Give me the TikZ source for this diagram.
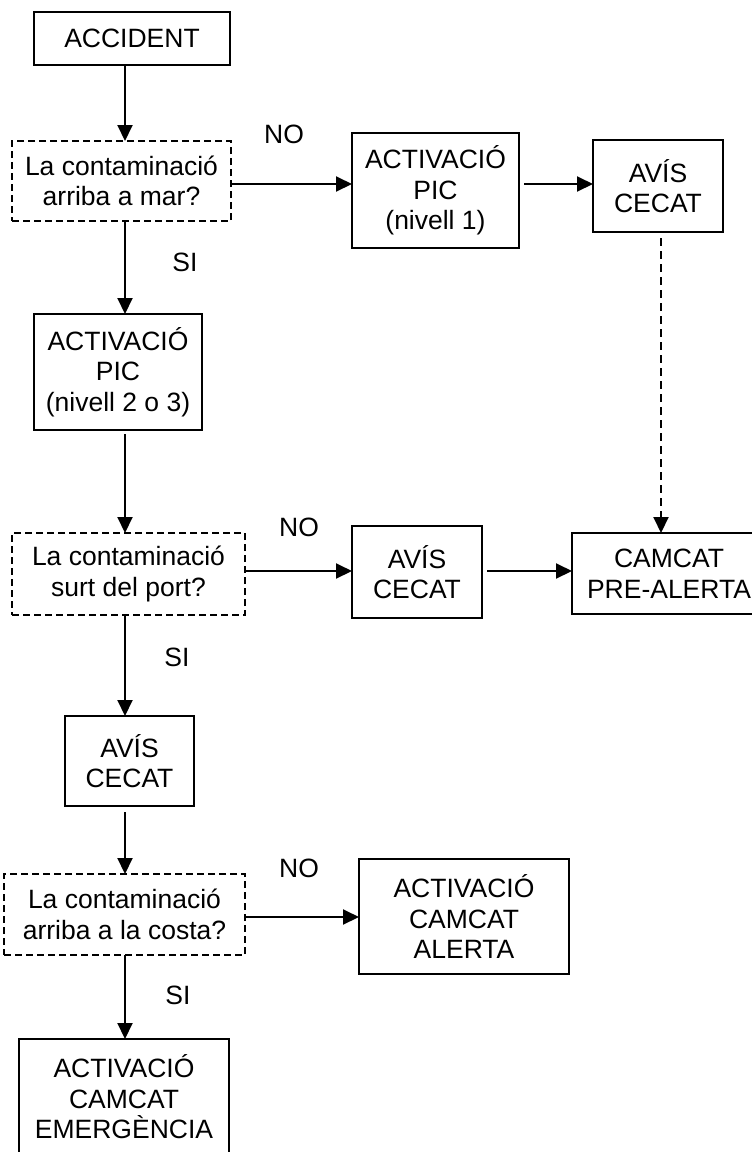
\documentclass[tikz,border=0pt]{standalone}
\usepackage{fontspec}
\setmainfont{Liberation Sans}
\usetikzlibrary{arrows.meta}
\begin{document}
\begin{tikzpicture}[x=1pt,y=-1pt,
  box/.style={draw, line width=2pt, inner sep=0pt, outer sep=0pt, align=center,
              font=\fontsize{26.5}{30.5}\selectfont},
  dbox/.style={box, dash pattern=on 7pt off 4pt},
  arr/.style={line width=2pt, -{Triangle[length=16pt,width=15pt]}},
  darr/.style={arr, dash pattern=on 8pt off 5pt},
  lbl/.style={font=\fontsize{26.5}{30.5}\selectfont, inner sep=0pt}]
\useasboundingbox (0,0) rectangle (752,1152);
\clip (0,0) rectangle (752,1152);

% helper coordinates
\coordinate (col) at (125,0);
\coordinate (dc) at (661,0);
\coordinate (r1) at (0,184);
\coordinate (r2) at (0,571);
\coordinate (r3) at (0,917);

% boxes
\node[box, minimum width=196pt, minimum height=53pt] (accident) at (132,38.5) {ACCIDENT};
\node[dbox, minimum width=219pt, minimum height=80pt] (d1) at (121.5,181) {La contaminació\\arriba a mar?};
\node[box, minimum width=167pt, minimum height=115pt] (pic1) at (435.5,190.5) {ACTIVACIÓ\\PIC\\(nivell 1)};
\node[box, minimum width=130pt, minimum height=92pt] (avis1) at (658,186) {AVÍS\\CECAT};
\node[box, minimum width=168pt, minimum height=116pt] (pic2) at (118,372) {ACTIVACIÓ\\PIC\\(nivell 2 o 3)};
\node[dbox, minimum width=233pt, minimum height=82pt] (d2) at (128.5,574) {La contaminació\\surt del port?};
\node[box, minimum width=130pt, minimum height=92pt] (avis2) at (417,572) {AVÍS\\CECAT};
\node[box, minimum width=194pt, minimum height=81pt] (camcat) at (669,573.5) {CAMCAT\\PRE-ALERTA};
\node[box, minimum width=129pt, minimum height=90pt] (avis3) at (129.5,761) {AVÍS\\CECAT};
\node[dbox, minimum width=241pt, minimum height=81pt] (d3) at (124.5,914.5) {La contaminació\\arriba a la costa?};
\node[box, minimum width=210pt, minimum height=115pt] (alerta) at (464,916.5) {ACTIVACIÓ\\CAMCAT\\ALERTA};
\node[box, minimum width=210pt, minimum height=116pt] (emerg) at (124,1097) {ACTIVACIÓ\\CAMCAT\\EMERGÈNCIA};

% labels
\node[lbl] (no1) at (284,134) {NO};
\node[lbl] (si1) at (185,262) {SI};
\node[lbl] (no2) at (299,527) {NO};
\node[lbl] (si2) at (177,657) {SI};
\node[lbl] (no3) at (299,868) {NO};
\node[lbl] (si3) at (178,995) {SI};

% vertical connectors
\draw[arr] (accident.south -| col) -- (d1.north -| col);
\draw[arr] (d1.south -| col) -- (pic2.north -| col);
\draw[arr, shorten <=4pt] (pic2.south -| col) -- (d2.north -| col);
\draw[arr] (d2.south -| col) -- (avis3.north -| col);
\draw[arr, shorten <=6pt] (avis3.south -| col) -- (d3.north -| col);
\draw[arr] (d3.south -| col) -- (emerg.north -| col);

% horizontal connectors
\draw[arr] (d1.east |- r1) -- (pic1.west |- r1);
\draw[arr, shorten <=5pt] (pic1.east |- r1) -- (avis1.west |- r1);
\draw[arr] (d2.east |- r2) -- (avis2.west |- r2);
\draw[arr, shorten <=5pt] (avis2.east |- r2) -- (camcat.west |- r2);
\draw[arr] (d3.east |- r3) -- (alerta.west |- r3);

% dashed connector
\draw[darr, shorten <=6pt] (avis1.south -| dc) -- (camcat.north -| dc);
\end{tikzpicture}
\end{document}
